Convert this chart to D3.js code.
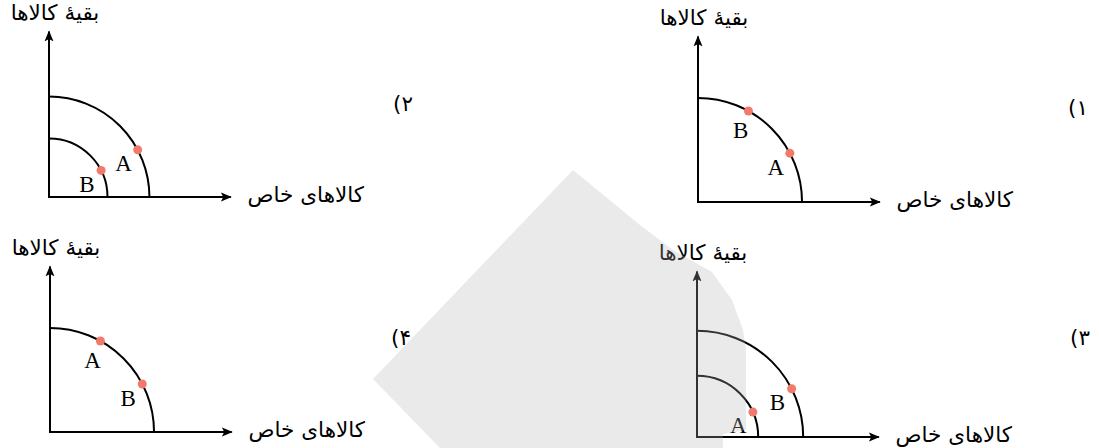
<!DOCTYPE html>
<meta charset="utf-8">
<style>
body { margin: 0; background: #fff; }
.axis { stroke: #000; stroke-width: 2px; fill: none; }
.curve { stroke: #000; stroke-width: 2px; fill: none; }
.fa { font-family: 'DejaVu Sans', sans-serif; font-size: 21.5px; fill: #000; }
.pt-label { font-family: 'Liberation Serif', 'Times New Roman', serif; font-size: 23px; fill: #000; }
</style>
<body>
<script src="https://cdnjs.cloudflare.com/ajax/libs/d3/7.8.5/d3.min.js"></script>
<script>
// option numbers, one per panel (as they show on the page, bracket on the left)
var optionLabels = ["(۱", "(۲", "(۳", "(۴"];
var yTitle = "بقیهٔ کالاها";
var xTitle = "کالاهای خاص";

// frontier radii (units) for each panel, outer first
var frontiers = [[5.78], [5.58, 3.25], [5.9, 3.4], [5.78]];

// points: which frontier they sit on and the angle (deg) from the x axis
var points = [
  [{name: "A", curve: 0, angle: 28}, {name: "B", curve: 0, angle: 61}],
  [{name: "A", curve: 0, angle: 28}, {name: "B", curve: 1, angle: 27}],
  [{name: "A", curve: 1, angle: 24}, {name: "B", curve: 0, angle: 27}],
  [{name: "A", curve: 0, angle: 61}, {name: "B", curve: 0, angle: 27.5}]
];

var xMax = 10.1, yMax = 9.2;

// panel placement: origin of axes and the option label spot
var layout = [
  {ox: 698, oy: 202, lx: 1078, ly: 107},
  {ox: 49, oy: 197, lx: 403, ly: 103},
  {ox: 697, oy: 437, lx: 1080, ly: 337},
  {ox: 50, oy: 432, lx: 401, ly: 337}
];

var W = 1099, H = 448;
var svg = d3.select("body").append("svg").attr("width", W).attr("height", H);

svg.append("defs").append("marker")
    .attr("id", "arrow")
    .attr("viewBox", "0 -5 12 10")
    .attr("refX", 10).attr("refY", 0)
    .attr("markerUnits", "userSpaceOnUse")
    .attr("markerWidth", 12).attr("markerHeight", 10)
    .attr("orient", "auto")
  .append("path")
    .attr("d", "M0,-4.5L11,0L0,4.5L2.5,0Z")
    .attr("fill", "#000");

layout.forEach(function(L, i) {
  var x = d3.scaleLinear().domain([0, 10]).range([L.ox, L.ox + 180]),
      y = d3.scaleLinear().domain([0, 10]).range([L.oy, L.oy - 180]);
  var g = svg.append("g");

  // frontiers
  var arc = d3.arc().startAngle(0).endAngle(Math.PI / 2);
  g.selectAll(".curve")
    .data(frontiers[i])
    .enter().append("path")
      .attr("class", "curve")
      .attr("transform", "translate(" + x(0) + "," + y(0) + ")")
      .attr("d", function(r) {
        var rp = x(r) - x(0);
        return arc.innerRadius(rp).outerRadius(rp)();
      });

  // axes
  g.append("path")
      .attr("class", "axis")
      .attr("d", "M" + x(0) + "," + y(0) + "L" + x(0) + "," + y(yMax))
      .attr("marker-end", "url(#arrow)");
  g.append("path")
      .attr("class", "axis")
      .attr("d", "M" + (x(0) - 1) + "," + y(0) + "L" + x(xMax) + "," + y(0))
      .attr("marker-end", "url(#arrow)");

  // titles
  g.append("text")
      .attr("class", "fa")
      .attr("text-anchor", "middle")
      .attr("x", x(0) + 6)
      .attr("y", y(yMax) - 11)
      .text(yTitle);
  g.append("text")
      .attr("class", "fa")
      .attr("text-anchor", "middle")
      .attr("x", x(xMax) + 75)
      .attr("y", y(0) + 5)
      .text(xTitle);

  g.append("text")
      .attr("class", "fa")
      .attr("text-anchor", "middle")
      .attr("x", L.lx)
      .attr("y", L.ly + 8)
      .text(optionLabels[i]);

  // points
  var pts = points[i].map(function(p) {
    var r = frontiers[i][p.curve], a = p.angle * Math.PI / 180;
    return {name: p.name, a: a, px: x(r * Math.cos(a)), py: y(r * Math.sin(a))};
  });

  g.selectAll(".pt")
    .data(pts)
    .enter().append("circle")
      .attr("class", "pt")
      .attr("cx", function(d) { return d.px; })
      .attr("cy", function(d) { return d.py; })
      .attr("r", 4.5)
      .attr("fill", "#f27a6c");

  g.selectAll(".pt-label")
    .data(pts)
    .enter().append("text")
      .attr("class", "pt-label")
      .attr("text-anchor", "middle")
      .attr("x", function(d) { return d.px - Math.cos(d.a) * 16; })
      .attr("y", function(d) { return d.py + 16 + Math.sin(d.a) * 12; })
      .text(function(d) { return d.name; });
});

// grey watermark laid over the page
svg.append("polygon")
    .attr("points", "373,379 573,170 640,225 673,250 712,272 732,300 743,330 746,350 746,430 723,434 723,448 440,448")
    .attr("fill", "#b5b5b5")
    .attr("opacity", 0.28);
</script>
